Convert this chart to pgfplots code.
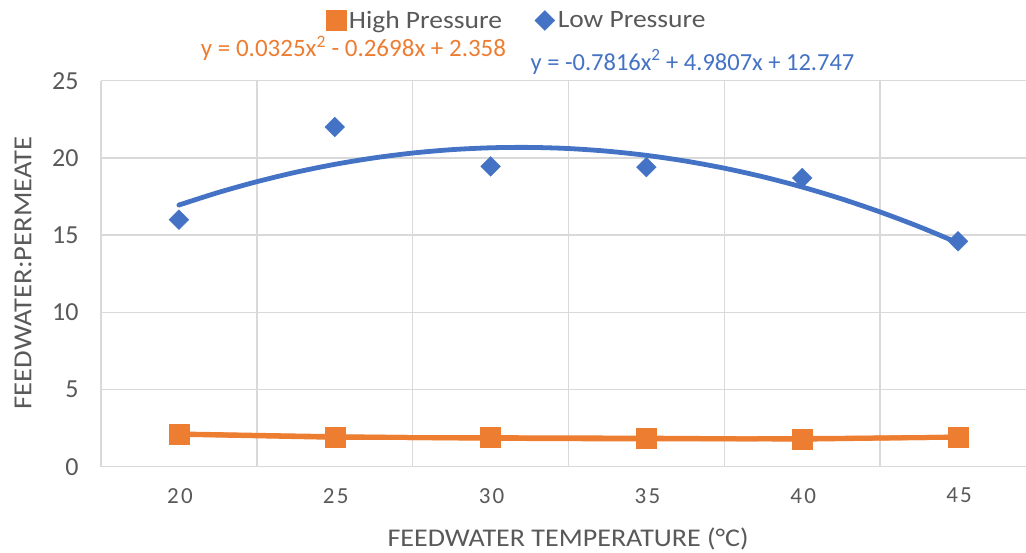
\documentclass[border=0pt]{standalone}
\usepackage{fontspec}
\setmainfont{Carlito}
\newfontfamily\spaced[LetterSpace=10]{Carlito}
\newfontfamily\wide[FakeStretch=1.1]{Carlito}
\usepackage{pgfplots}
\pgfplotsset{compat=1.18}
\definecolor{xlorange}{HTML}{ED7D31}
\definecolor{xlblue}{HTML}{4472C4}
\definecolor{txtgray}{HTML}{595959}
\definecolor{gridgray}{HTML}{D9D9D9}
\begin{document}
\begin{tikzpicture}
\path[use as bounding box] (0,0) rectangle (1026pt,553pt);
\begin{axis}[
  at={(101pt,86.3pt)}, anchor=south west,
  scale only axis, width=925pt, height=386pt,
  xmin=0.5, xmax=6.436, ymin=0, ymax=25,
  xtick={1,...,6}, xticklabels={20,25,30,35,40,45},
  ytick={0,5,...,25},
  minor xtick={0.5,1.5,...,6.5},
  xminorgrids, ymajorgrids,
  grid style={gridgray, line width=1.5pt},
  minor grid style={gridgray, line width=1.5pt},
  axis line style={draw=none},
  major tick length=0pt, minor tick length=0pt,
  /pgf/number format/assume math mode=true,
  yticklabel style={font=\fontsize{26}{30}\selectfont, text=txtgray, xshift=-19pt},
  xticklabel style={font=\spaced\fontsize{23}{26}\selectfont, text=txtgray, yshift=-18pt, xshift=1pt},
  xlabel={FEEDWATER TEMPERATURE (°C)},
  ylabel={FEEDWATER:PERMEATE},
  xlabel style={at={(axis description cs:0.505,-0.188)}, anchor=center, font=\wide\fontsize{25.5}{30}\selectfont, text=txtgray},
  ylabel style={at={(axis description cs:-0.0843,0.502)}, anchor=center, font=\wide\fontsize{26}{30}\selectfont, text=txtgray},
  clip mode=individual,
  legend image code/.code={\draw[#1] plot coordinates {(6pt,0pt)};},
  legend style={at={(axis description cs:0.450,1.156)}, anchor=center, draw=none, fill=none,
    font=\wide\fontsize{25}{30}\selectfont, text=txtgray,
    nodes={inner xsep=3pt},
    /tikz/every even column/.append style={column sep=30pt}},
  legend columns=2,
  legend cell align=left,
]
% trendlines (polynomial order 2)
\addplot[forget plot, xlblue, line width=4.8pt, smooth, line cap=round] coordinates {
(1,16.946) (1.25,17.752) (1.5,18.459) (1.75,19.070) (2,19.582) (2.25,19.997) (2.5,20.314)
(2.75,20.533) (3,20.655) (3.25,20.679) (3.5,20.606) (3.75,20.433) (4,20.164) (4.25,19.797)
(4.5,19.333) (4.75,18.771) (5,18.111) (5.25,17.353) (5.5,16.497) (5.75,15.545) (6,14.494)};
\addplot[forget plot, xlorange, line width=5pt] coordinates {
(1,2.10) (2,1.90) (3,1.88) (4,1.85) (5,1.78) (6,1.92)};
\addplot[forget plot, xlorange, line width=5pt, smooth] coordinates {
(1,2.121) (2,1.948) (3,1.841) (4,1.799) (5,1.822) (6,1.909)};
% data
\addplot[only marks, mark=square*, mark size=10pt, mark options={xlorange, draw=xlorange}] coordinates {
(1,2.10) (2,1.90) (3,1.88) (4,1.85) (5,1.78) (6,1.92)};
\addlegendentry{High Pressure}
\addplot[only marks, mark=square*, mark size=7pt, mark options={rotate=45, xlblue, draw=xlblue}] coordinates {
(1,16.0) (2,22.0) (3,19.45) (4,19.4) (5,18.7) (6,14.6)};
\addlegendentry{Low Pressure}
\node[text=xlorange, font=\fontsize{25}{30}\selectfont, anchor=base] at (axis description cs:0.273,1.0614) {y = 0.0325x\textsuperscript{2} - 0.2698x + 2.358};
\node[text=xlblue, font=\fontsize{24.5}{30}\selectfont, anchor=base] at (axis description cs:0.6395,1.0277) {y = -0.7816x\textsuperscript{2} + 4.9807x + 12.747};
\end{axis}
\end{tikzpicture}
\end{document}
